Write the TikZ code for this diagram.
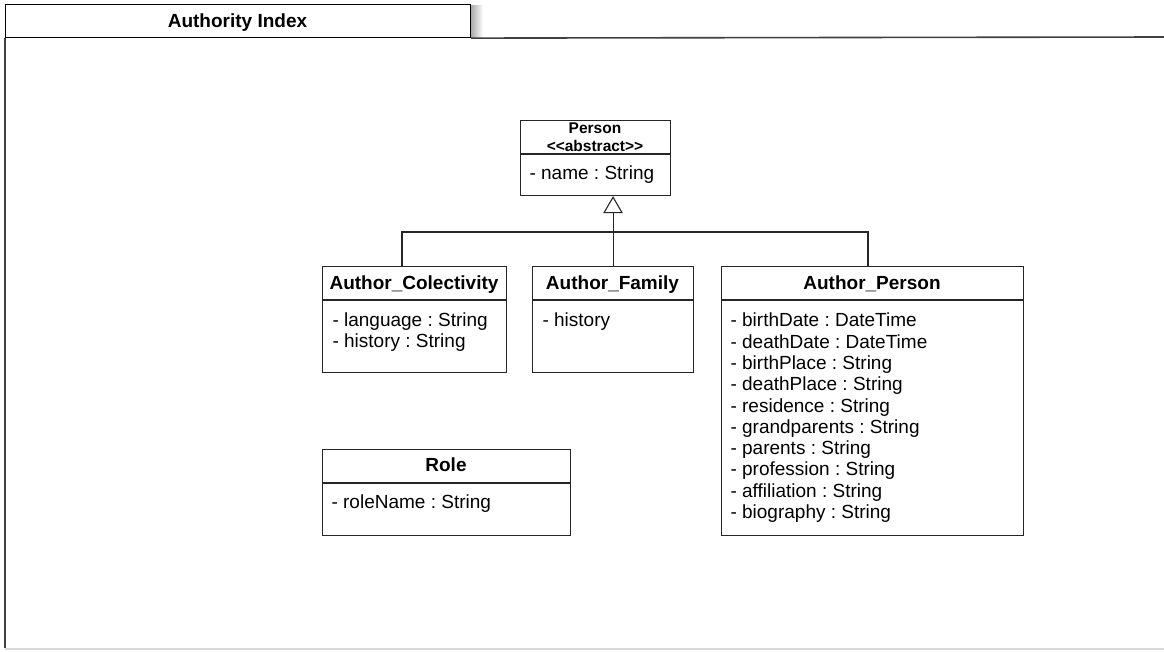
\documentclass[tikz,border=0pt]{standalone}
\usepackage{fontspec}
\setmainfont{Liberation Sans}
\usetikzlibrary{arrows.meta}
\frenchspacing
\begin{document}
\begin{tikzpicture}[x=1pt,y=-1pt,
  line width=1.1pt,
  frameline/.style={draw=black!75, line width=1.6pt},
  classbox/.style={draw=black!85, line width=1.1pt, rectangle, inner sep=0pt, anchor=north west},
  divider/.style={draw=black!85, line width=1.1pt},
  classname/.style={font=\bfseries\fontsize{19}{22}\selectfont, inner sep=0pt, anchor=base},
  smallname/.style={font=\bfseries\fontsize{15.5}{18}\selectfont, inner sep=0pt, anchor=base},
  attrs/.style={font=\fontsize{19}{21.3}\selectfont, align=left, inner sep=0pt, anchor=north west},
  link/.style={draw=black!85, line width=1.1pt},
  generalize/.style={link, -{Triangle[open, length=17pt, width=19.5pt, line width=1.1pt]}}
]
\useasboundingbox (0,0) rectangle (1164,651);

% package frame with its name tab
\shade[left color=black!35, right color=white] (470.5,5) rectangle (483,37);
\node[classbox, draw=black, minimum width=465pt, minimum height=33pt, fill=white] (tab) at (5,4) {};
\node[font=\bfseries\fontsize{19}{22}\selectfont, inner sep=0pt, anchor=base] (tablabel) at (237.5,27) {Authority Index};
\draw[frameline] (tab.south east) -- (1164,37);
\draw[frameline, line width=1.3pt] (tab.south west) -- (5,648);
\draw[black!15, line width=2pt] (5,649) -- (1164,649);

% Person
\node[classbox, minimum width=150pt, minimum height=75pt] (person) at (520,120) {};
\draw[divider] (520,154) -- (670,154);
\node[smallname] (personname) at (595,133) {Person};
\node[smallname] (personstereo) at (595,151) {{<}{<}abstract{>}{>}};
\node[attrs] (personattrs) at (529,165) {- name : String};

% Author_Colectivity
\node[classbox, minimum width=184pt, minimum height=106pt] (col) at (322,266) {};
\draw[divider] (322,300) -- (506,300);
\node[classname] (colname) at (414,289) {Author\_Colectivity};
\node[attrs] (colattrs) at (332,312) {- language : String\\- history : String};

% Author_Family
\node[classbox, minimum width=161pt, minimum height=106pt] (fam) at (532,266) {};
\draw[divider] (532,300) -- (693,300);
\node[classname] (famname) at (612.5,289) {Author\_Family};
\node[attrs] (famattrs) at (542,312) {- history};

% Author_Person
\node[classbox, minimum width=302pt, minimum height=269pt] (aper) at (721,266) {};
\draw[divider] (721,300) -- (1023,300);
\node[classname] (apername) at (872,289) {Author\_Person};
\node[attrs] (aperattrs) at (730,312.5) {- birthDate : DateTime\\
- deathDate : DateTime\\
- birthPlace : String\\
- deathPlace : String\\
- residence : String\\
- grandparents : String\\
- parents : String\\
- profession : String\\
- affiliation : String\\
- biography : String};

% Role
\node[classbox, minimum width=248pt, minimum height=86pt] (role) at (322,449) {};
\draw[divider] (322,483) -- (570,483);
\node[classname] (rolename) at (446,471) {Role};
\node[attrs] (roleattrs) at (331,494.5) {- roleName : String};

% generalization tree
\coordinate (jcol) at (402,232);
\coordinate (japer) at (868,232);
\draw[link] (jcol |- col.north) -- (jcol) -- (japer) -- (japer |- aper.north);
\draw[generalize] (fam.north) -- (fam.north |- person.south);
\end{tikzpicture}
\end{document}
